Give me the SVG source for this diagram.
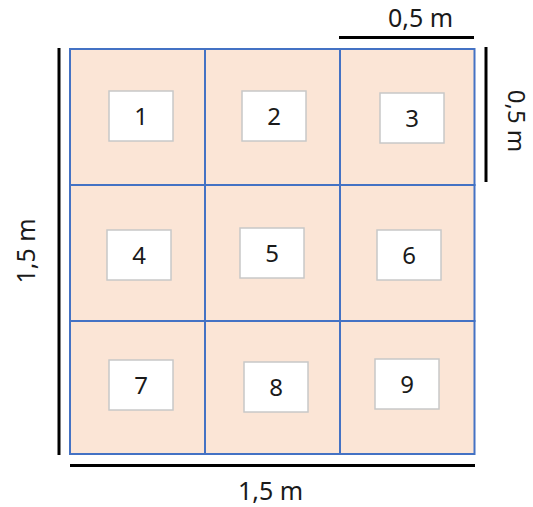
<svg xmlns="http://www.w3.org/2000/svg" width="533" height="507" viewBox="0 0 533 507">
<style>
.cell{fill:#FBE5D6;stroke:#4472C4;stroke-width:2}
.box{fill:#FFFFFF;stroke:#C8C8C8;stroke-width:1.5}
.num{font-family:"Noto Sans","Open Sans",sans-serif;font-size:24px;fill:#1a1a1a;text-anchor:middle}
.lbl{font-family:"Noto Sans","Open Sans",sans-serif;font-size:25px;fill:#1a1a1a;text-anchor:middle}
.dim{stroke:#000;stroke-width:3;fill:none}
</style>
<rect width="533" height="507" fill="#fff"/>
<g id="grid">
<rect class="cell" x="70" y="49" width="135" height="136"/>
<rect class="cell" x="205" y="49" width="135" height="136"/>
<rect class="cell" x="340" y="49" width="134.5" height="136"/>
<rect class="cell" x="70" y="185" width="135" height="136"/>
<rect class="cell" x="205" y="185" width="135" height="136"/>
<rect class="cell" x="340" y="185" width="134.5" height="136"/>
<rect class="cell" x="70" y="321" width="135" height="133"/>
<rect class="cell" x="205" y="321" width="135" height="133"/>
<rect class="cell" x="340" y="321" width="134.5" height="133"/>
</g>
<g id="n1"><rect class="box" x="109" y="91" width="64" height="50"/><text class="num" x="141" y="125">1</text></g>
<g id="n2"><rect class="box" x="242" y="91" width="64" height="50"/><text class="num" x="274" y="125">2</text></g>
<g id="n3"><rect class="box" x="380" y="93" width="64" height="50"/><text class="num" x="412" y="127">3</text></g>
<g id="n4"><rect class="box" x="107" y="230" width="64" height="50"/><text class="num" x="139" y="264">4</text></g>
<g id="n5"><rect class="box" x="240" y="228" width="64" height="50"/><text class="num" x="272" y="262">5</text></g>
<g id="n6"><rect class="box" x="377" y="230" width="64" height="50"/><text class="num" x="409" y="264">6</text></g>
<g id="n7"><rect class="box" x="109" y="360" width="64" height="50"/><text class="num" x="141" y="394">7</text></g>
<g id="n8"><rect class="box" x="244" y="362" width="64" height="50"/><text class="num" x="276" y="396">8</text></g>
<g id="n9"><rect class="box" x="375" y="359" width="64" height="50"/><text class="num" x="407" y="393">9</text></g>
<g id="dimensions">
<line class="dim" x1="339" y1="37.5" x2="474" y2="37.5"/>
<line class="dim" x1="486" y1="47" x2="486" y2="182"/>
<line class="dim" x1="59" y1="48" x2="59" y2="455"/>
<line class="dim" x1="70" y1="465.5" x2="475" y2="465.5"/>
<text class="lbl" x="420.5" y="27">0,5 m</text>
<text class="lbl" x="270.5" y="500">1,5 m</text>
<text class="lbl" transform="translate(35,251) rotate(-90)">1,5 m</text>
<text class="lbl" style="font-size:24px" transform="translate(508,121) rotate(90)">0,5 m</text>
</g>
</svg>
